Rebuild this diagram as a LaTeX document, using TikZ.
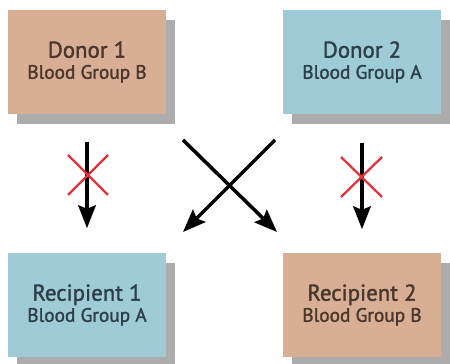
\documentclass[tikz,border=0pt]{standalone}
\usepackage{fontspec}
\setmainfont{PT Sans}[FakeBold=1.5]
\usetikzlibrary{arrows.meta,shadows}
\definecolor{tan}{HTML}{D8AE95}
\definecolor{skyblue}{HTML}{9FCBD7}
\definecolor{tantext}{HTML}{4A372C}
\definecolor{bluetext}{HTML}{2C3F48}
\definecolor{crossred}{HTML}{E2333C}
\tikzset{
  groupbox/.style={minimum width=3.16cm,minimum height=2.1cm,inner sep=0pt,
    align=center,drop shadow={shadow xshift=0.18cm,shadow yshift=-0.2cm,fill=black!50,opacity=0.65}},
  flow/.style={line width=2pt,-{Stealth[length=13pt,width=10pt,inset=2pt]}},
  nogo/.style={crossred,line width=1.3pt}
}
\newcommand{\boxtext}[2]{{\fontsize{13}{15}\selectfont\addfontfeatures{FakeBold=1.5}#1}\\[0pt]{\fontsize{11}{13}\selectfont\addfontfeatures{FakeBold=1.5}#2}}
\begin{document}
\begin{tikzpicture}[x=0.02cm,y=-0.02cm]
  \useasboundingbox (0,0) rectangle (450,364);

  % donors
  \node[groupbox,fill=tan,text=tantext] (donorA) at (87,62) {\boxtext{Donor 1}{Blood Group B}};
  \node[groupbox,fill=skyblue,text=bluetext] (donorB) at (362,62) {\boxtext{Donor 2}{Blood Group A}};

  % recipients
  \node[groupbox,fill=skyblue,text=bluetext] (recipA) at (87,305) {\boxtext{Recipient 1}{Blood Group A}};
  \node[groupbox,fill=tan,text=tantext] (recipB) at (362,305) {\boxtext{Recipient 2}{Blood Group B}};

  % straight arrows, not allowed
  \draw[flow] (donorA.south) ++(0,27) coordinate (topA) -- ([yshift=0.48cm]recipA.north);
  \draw[flow] (donorB.south) ++(0,28) coordinate (topB) -- ([yshift=0.46cm]recipB.north);
  \draw[nogo] (68,155)--(108,195) (68,195)--(108,155);
  \draw[nogo] (341,157)--(382,197) (341,197)--(382,157);

  % crossed arrows, allowed
  \coordinate (crossA) at (183,140);
  \coordinate (crossB) at (275,140);
  \coordinate (endA) at (277,232);
  \coordinate (endB) at (183,232);
  \draw[flow] (crossA) -- (endA);
  \draw[flow] (crossB) -- (endB);
\end{tikzpicture}
\end{document}
